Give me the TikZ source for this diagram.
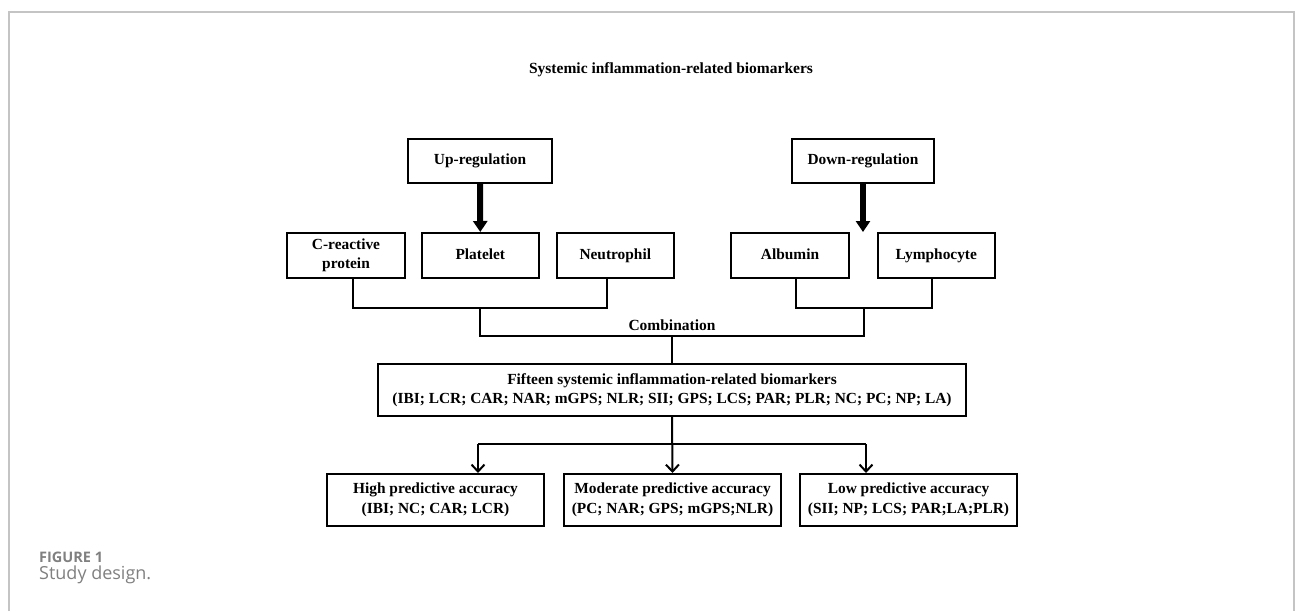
\documentclass[tikz,border=0pt]{standalone}
\usepackage{fontspec}
\setmainfont{Liberation Serif}
\newfontfamily\capfont{Open Sans}
\usetikzlibrary{arrows.meta,calc}
\definecolor{framegrey}{HTML}{C4C4C4}
\definecolor{capgrey}{HTML}{808080}
\tikzset{
  box/.style={draw=black, line width=2pt, inner sep=0pt, align=center,
    font=\bfseries\fontsize{15.4}{19.5}\selectfont},
  onebox/.style={box, text height=11pt, text depth=3.5pt},
  conn/.style={draw=black, line width=2pt},
  bigarrow/.style={draw=black, line width=6pt, -{Triangle[length=11pt,width=14pt]}},
  thinarrow/.style={draw=black, line width=2pt, -{Straight Barb[length=7pt,width=13pt,line width=2pt]}},
  lbl/.style={inner sep=0pt, font=\bfseries\fontsize{15.5}{19}\selectfont},
}
\begin{document}
\begin{tikzpicture}[x=1pt,y=-1pt]
\useasboundingbox (0,0) rectangle (1295,611);
\fill[white] (0,0) rectangle (1295,611);
% frame
\draw[framegrey, line width=1.3pt] (9,611) -- (9,12) -- (1294,12) -- (1294,611);
% title
\node[lbl] (title) at (671,70) {Systemic inflammation-related biomarkers};
% regulation boxes
\node[onebox, minimum width=144pt, minimum height=44pt] (up) at (480,161) {Up-regulation};
\node[onebox, minimum width=142pt, minimum height=44pt] (down) at (863,161) {Down-regulation};
% middle row
\node[box, minimum width=118pt, minimum height=45pt] (crp) at (346,255.5) {C-reactive\\protein};
\node[onebox, minimum width=117pt, minimum height=45pt] (plt) at (480.3,255.5) {Platelet};
\node[onebox, minimum width=117pt, minimum height=45pt] (neu) at (615.3,255.5) {Neutrophil};
\node[onebox, minimum width=118pt, minimum height=45pt] (alb) at (790,255.5) {Albumin};
\node[onebox, minimum width=117pt, minimum height=45pt] (lym) at (936.3,255.5) {Lymphocyte};
% big box
\node[box, minimum width=588pt, minimum height=52pt] (big) at (672,390)
  {Fifteen systemic inflammation-related biomarkers\\(IBI; LCR; CAR; NAR; mGPS; NLR; SII; GPS; LCS; PAR; PLR; NC; PC; NP; LA)};
% bottom boxes
\node[box, minimum width=217pt, minimum height=52pt] (high) at (435.5,500) {High predictive accuracy\\(IBI; NC; CAR; LCR)};
\node[box, minimum width=217pt, minimum height=52pt] (mod) at (672.5,500) {Moderate predictive accuracy\\(PC; NAR; GPS; mGPS;NLR)};
\node[box, minimum width=217pt, minimum height=52pt] (low) at (908.5,500) {Low predictive accuracy\\(SII; NP; LCS; PAR;LA;PLR)};
% thick arrows
\coordinate (downtip) at (863,232);
\draw[bigarrow] (up.south) -- (plt.north);
\draw[bigarrow] (down.south) -- (downtip);
% brackets
\coordinate (jl) at (480,307.7);
\coordinate (jr) at (863.7,307.7);
\coordinate (jc) at (672,336);
\draw[conn] ([xshift=7.3pt]crp.south) |- (jl) -| ([xshift=-8.3pt]neu.south);
\draw[conn] ([xshift=5.7pt]alb.south) |- (jr) -| ([xshift=-4.6pt]lym.south);
\draw[conn] (jl) |- (jc) -| (jr);
\draw[conn] (jc) -- (big.north);
\node[lbl] (comb) at (672,325) {Combination};
% bottom branch
\coordinate (bl) at (478,444);
\coordinate (br) at (866,444);
\draw[conn] (bl) -- (br);
\draw[thinarrow] (big.south) -- (mod.north);
\draw[thinarrow] (bl) -- (bl |- high.north);
\draw[thinarrow] (br) -- (br |- low.north);
% caption
\node[anchor=base west, inner sep=0pt, text=capgrey, font=\capfont\bfseries\fontsize{14.5}{17}\selectfont] (fig) at (39,562) {FIGURE 1};
\node[anchor=base west, inner sep=0pt, text=capgrey, font=\capfont\fontsize{18}{21}\selectfont] (cap) at (39,579) {Study design.};
\end{tikzpicture}
\end{document}
